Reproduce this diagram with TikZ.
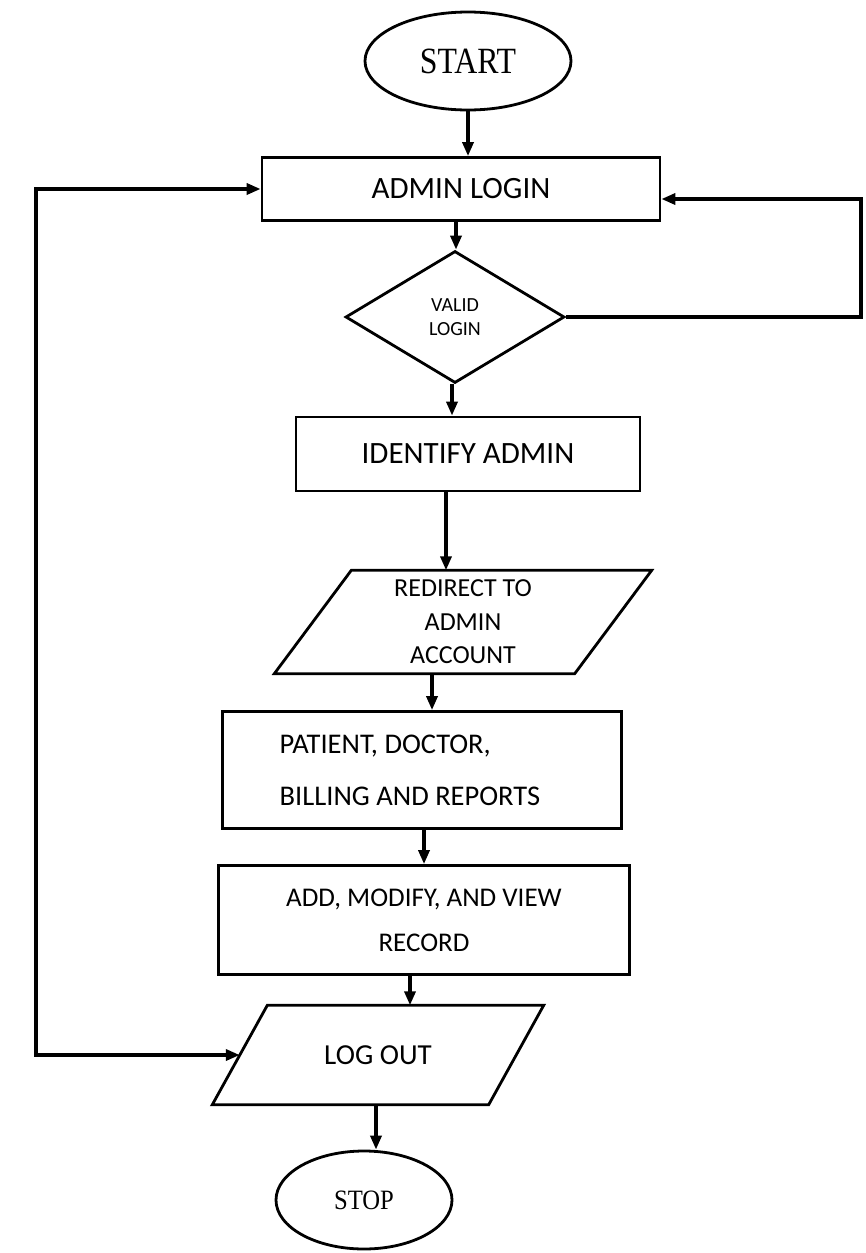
\documentclass[tikz,border=0pt]{standalone}
\usepackage{fontspec}
\usepackage{graphicx}
\setmainfont{Carlito}
\newfontfamily\termfont{Liberation Serif}
\usetikzlibrary{shapes.geometric,arrows.meta}

\begin{document}
\begin{tikzpicture}[x=1pt,y=-1pt,
  >={Triangle[length=14pt,width=11pt]},
  outline/.style={line width=2.8pt, line join=miter},
  box/.style={draw, outline, rectangle, inner sep=0pt, align=center},
  term/.style={draw, outline, ellipse, inner sep=0pt},
  iofield/.style={rectangle, inner sep=0pt, align=center},
  decision/.style={draw, outline, diamond, inner sep=0pt, align=center},
  flow/.style={line width=3.4pt, ->},
  loopback/.style={line width=3.4pt, <->},
]
\useasboundingbox (0,0) rectangle (866,1253);

% terminals, processes and decisions
\node[term, minimum width=206pt, minimum height=98pt] (start) at (468,61)
  {\termfont\fontsize{37}{40}\selectfont\scalebox{0.86}[1]{START}};

\node[box, minimum width=398pt, minimum height=63pt,
      font=\fontsize{31}{36}\selectfont] (login) at (461,189) {ADMIN LOGIN};

\node[decision, minimum width=219pt, minimum height=132pt,
      font=\fontsize{20}{24}\selectfont] (valid) at (455,317) {VALID\\LOGIN};

\node[box, minimum width=344pt, minimum height=74pt,
      font=\fontsize{31}{36}\selectfont] (ident) at (468,454) {IDENTIFY ADMIN};

% input/output blocks: the node holds the text, the slanted outline is drawn below
\node[iofield, minimum width=377pt, minimum height=103pt,
      font=\fontsize{26}{33.5}\selectfont] (redirect) at (463,622)
  {REDIRECT TO\\ADMIN\\ACCOUNT};
\draw[outline] ([xshift=77]redirect.north west) -- (redirect.north east)
  -- ([xshift=-77]redirect.south east) -- (redirect.south west) -- cycle;

% left-aligned text block, set slightly left of the box centre
\node[box, minimum width=399pt, minimum height=117pt, align=left,
      font=\fontsize{28.5}{52}\selectfont] (records) at (422,770)
  {PATIENT, DOCTOR,\\BILLING AND REPORTS\hspace*{24pt}};

\node[box, minimum width=411pt, minimum height=109pt,
      font=\fontsize{27}{45}\selectfont] (manage) at (424,920)
  {ADD, MODIFY, AND VIEW\\RECORD};

\node[iofield, minimum width=331pt, minimum height=99pt,
      font=\fontsize{29}{35}\selectfont] (logout) at (378,1055) {LOG OUT};
\draw[outline] ([xshift=55]logout.north west) -- (logout.north east)
  -- ([xshift=-55]logout.south east) -- (logout.south west) -- cycle;
\coordinate (logoutleft) at ([xshift=27.5]logout.west);

\node[term, minimum width=176pt, minimum height=98pt] (stop) at (364,1200)
  {\termfont\fontsize{28}{30}\selectfont\scalebox{0.88}[1]{STOP}};

% main flow
\draw[flow] (start.south) -- (start.south |- login.north);
\draw[flow] ([xshift=-5]login.south) -- ([xshift=-5]login.south |- valid.north);
\draw[flow] ([xshift=-3]valid.south) -- ([xshift=-3]valid.south |- ident.north);
\draw[flow] ([xshift=-22]ident.south) -- ([xshift=-22]ident.south |- redirect.north);
\draw[flow] ([xshift=-31]redirect.south) -- ([xshift=-31]redirect.south |- records.north);
\draw[flow] ([xshift=2]records.south) -- ([xshift=2]records.south |- manage.north);
\draw[flow] ([xshift=-14]manage.south) -- ([xshift=-14]manage.south |- logout.north);
\draw[flow] ([xshift=-2]logout.south) -- ([xshift=-2]logout.south |- stop.north);

% invalid login returns to the login box
\coordinate (rightrail) at (861,0);
\coordinate (retry) at ([yshift=-10]login.east);
\draw[flow] (valid.east) -- (valid.east -| rightrail)
  -- (rightrail |- retry) -- (retry);

% loop between log out and login
\coordinate (leftrail) at (36,0);
\draw[loopback] (logoutleft) -- (logoutleft -| leftrail)
  -- (leftrail |- login.west) -- (login.west);
\end{tikzpicture}
\end{document}
